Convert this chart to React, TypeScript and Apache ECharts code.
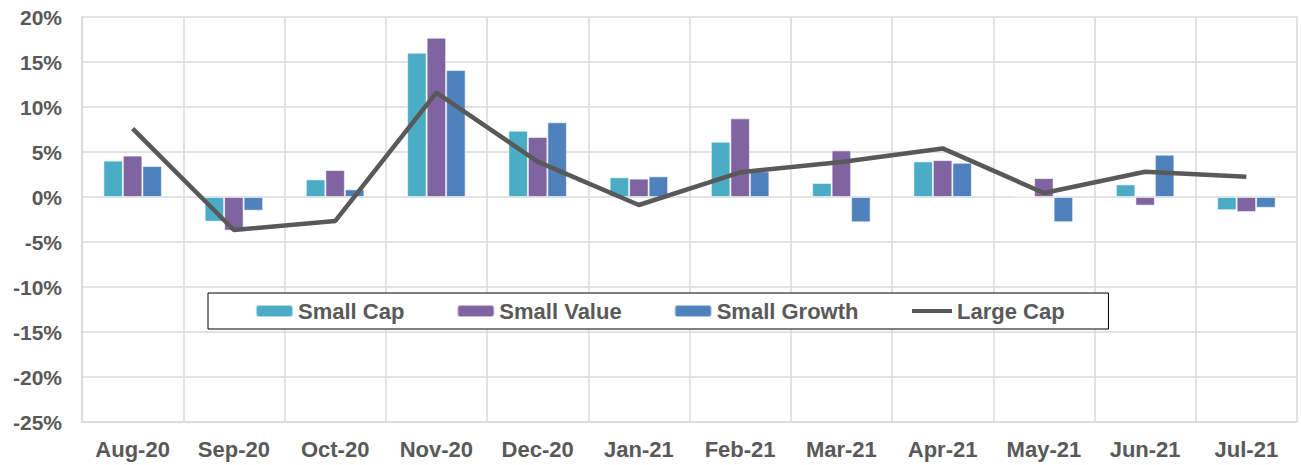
import React, { useEffect, useRef } from "react";
import * as echarts from "echarts";

const categories = ["Aug-20", "Sep-20", "Oct-20", "Nov-20", "Dec-20", "Jan-21", "Feb-21", "Mar-21", "Apr-21", "May-21", "Jun-21", "Jul-21"];
const smallCap = [4.04, -2.74, 1.96, 16.04, 7.37, 2.19, 6.15, 1.56, 3.96, 0.08, 1.4, -1.47];
const smallValue = [4.6, -3.74, 3.0, 17.7, 6.67, 2.04, 8.74, 5.18, 4.1, 2.1, -0.96, -1.67];
const smallGrowth = [3.44, -1.52, 0.85, 14.1, 8.3, 2.3, 2.85, -2.81, 3.8, -2.8, 4.7, -1.2];
const largeCap = [7.6, -3.67, -2.67, 11.6, 3.93, -0.89, 2.74, 3.9, 5.4, 0.45, 2.8, 2.26];

const FONT = "'Liberation Sans', Arial, sans-serif";
const TEXT = "#595959";
const GRID = "#D9D9D9";

export default function App() {
  const ref = useRef<HTMLDivElement>(null);
  useEffect(() => {
    if (!ref.current) return;
    const chart = echarts.init(ref.current, undefined, { renderer: "svg" });
    const barStyle = (color: string) => ({
      color,
      borderColor: "rgba(255,255,255,0.55)",
      borderWidth: 1,
    });
    const legendText = { fontFamily: FONT, fontWeight: "bold", fontSize: 22, color: TEXT };
    chart.setOption({
      animation: false,
      grid: { left: 82, top: 17, right: 4, bottom: 43, containLabel: false },
      legend: [
        {
          left: 208,
          top: 293,
          padding: [7, 250, 7, 47],
          itemGap: 52,
          itemWidth: 37,
          itemHeight: 12,
          borderColor: "#000",
          borderWidth: 1,
          backgroundColor: "#fff",
          textStyle: legendText,
          data: [{ name: "Small Cap" }, { name: "Small Value" }, { name: "Small Growth" }],
        },
        {
          left: 906,
          top: 294,
          padding: [6, 0, 6, 6],
          itemWidth: 40,
          itemHeight: 4,
          icon: "rect",
          textStyle: legendText,
          data: [{ name: "Large Cap" }],
          z: 10,
        },
      ],
      xAxis: {
        type: "category",
        data: categories,
        boundaryGap: true,
        axisLine: { show: true, onZero: false, lineStyle: { color: GRID, width: 1.5 } },
        axisTick: { show: false },
        splitLine: { show: true, lineStyle: { color: GRID, width: 1.5 } },
        axisLabel: {
          fontFamily: FONT,
          fontWeight: "bold",
          fontSize: 22,
          color: TEXT,
          margin: 16,
          interval: 0,
        },
      },
      yAxis: {
        type: "value",
        min: -25,
        max: 20,
        interval: 5,
        axisLine: { show: true, lineStyle: { color: GRID, width: 1.5 } },
        axisTick: { show: false },
        splitLine: { show: true, lineStyle: { color: GRID, width: 1.5 } },
        axisLabel: {
          formatter: "{value}%",
          fontFamily: FONT,
          fontWeight: "bold",
          fontSize: 21,
          color: TEXT,
          margin: 20,
        },
      },
      series: [
        { name: "Small Cap", type: "bar", data: smallCap, barWidth: 19.5, barGap: "0%", itemStyle: barStyle("#4BACC6") },
        { name: "Small Value", type: "bar", data: smallValue, barWidth: 19.5, barGap: "0%", itemStyle: barStyle("#8064A2") },
        { name: "Small Growth", type: "bar", data: smallGrowth, barWidth: 19.5, barGap: "0%", itemStyle: barStyle("#4F81BD") },
        {
          name: "Large Cap",
          type: "line",
          data: largeCap,
          symbol: "none",
          lineStyle: { color: "#595959", width: 4.5 },
          itemStyle: { color: "#595959" },
          z: 5,
        },
      ],
    });
    return () => chart.dispose();
  }, []);
  return (
    <div
      ref={ref}
      style={{ position: "fixed", left: 0, top: 0, width: 1301, height: 465, background: "#fff" }}
    />
  );
}
